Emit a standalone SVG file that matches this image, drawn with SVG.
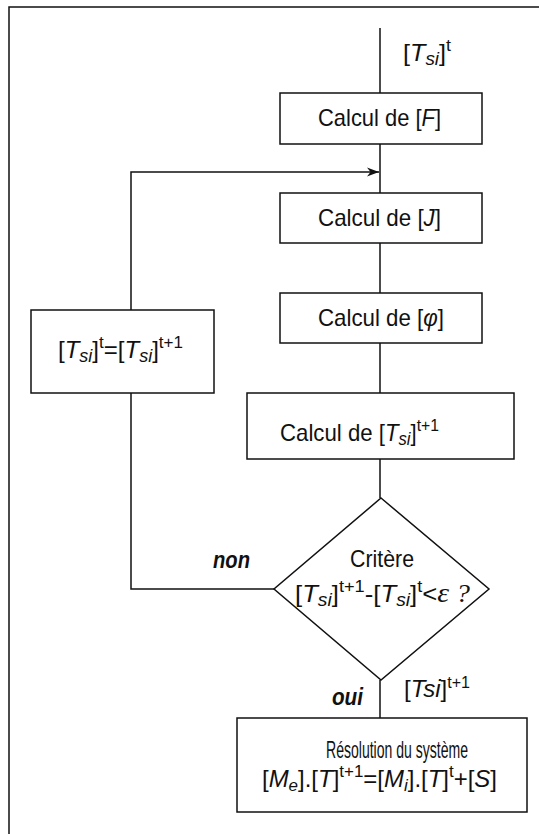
<svg xmlns="http://www.w3.org/2000/svg" width="539" height="834" viewBox="0 0 539 834">
<style>
.ln{stroke:#111;stroke-width:1.5;fill:none}
.bx{stroke:#111;stroke-width:1.5;fill:#fff}
text{font-family:"Liberation Sans",Arial,sans-serif;fill:#111;font-size:24px}
.i{font-style:italic}
.b{font-weight:bold;font-style:italic}
</style>
<defs>
<marker id="ah" viewBox="0 0 12 10" refX="12" refY="5" markerWidth="12" markerHeight="10" markerUnits="userSpaceOnUse" orient="auto">
<path d="M0,0.5 L12,5 L0,9.5 L3.5,5 z" fill="#111"/>
</marker>
</defs>
<rect width="539" height="834" fill="#fff"/>
<g id="frame"><path class="ln" d="M9,834 V7 H539"/></g>
<g id="connectors">
<path class="ln" d="M380,28 V93"/>
<path class="ln" d="M380,144 V193"/>
<path class="ln" d="M380,243 V293"/>
<path class="ln" d="M380,343 V393"/>
<path class="ln" d="M380,459 V498"/>
<path class="ln" d="M380,680 V718"/>
<path class="ln" d="M274,589 H131 V393"/>
<path class="ln" d="M131,310 V172 H379" marker-end="url(#ah)"/>
</g>
<g id="label-top">
<text x="403" y="61" textLength="48" lengthAdjust="spacingAndGlyphs">[<tspan class="i">T</tspan><tspan class="i" font-size="18" dy="4">si</tspan><tspan dy="-4">]</tspan><tspan font-size="17" dy="-10">t</tspan></text>
</g>
<g id="calcF">
<rect class="bx" x="280" y="93" width="202" height="51"/>
<text x="318" y="126" textLength="123" lengthAdjust="spacingAndGlyphs">Calcul de [<tspan class="i">F</tspan>]</text>
</g>
<g id="calcJ">
<rect class="bx" x="280" y="193" width="202" height="50"/>
<text x="318" y="226" textLength="123" lengthAdjust="spacingAndGlyphs">Calcul de [<tspan class="i">J</tspan>]</text>
</g>
<g id="calcPhi">
<rect class="bx" x="280" y="293" width="202" height="50"/>
<text x="318" y="326" textLength="126" lengthAdjust="spacingAndGlyphs">Calcul de [<tspan class="i">φ</tspan>]</text>
</g>
<g id="calcTsi">
<rect class="bx" x="247" y="393" width="267" height="66"/>
<text x="280" y="441" textLength="159" lengthAdjust="spacingAndGlyphs">Calcul de [<tspan class="i">T</tspan><tspan class="i" font-size="18" dy="4">si</tspan><tspan dy="-4">]</tspan><tspan font-size="17" dy="-10">t+1</tspan></text>
</g>
<g id="update">
<rect class="bx" x="31" y="310" width="183" height="83"/>
<text x="58" y="358" textLength="125" lengthAdjust="spacingAndGlyphs">[<tspan class="i">T</tspan><tspan class="i" font-size="18" dy="4">si</tspan><tspan dy="-4">]</tspan><tspan font-size="17" dy="-10">t</tspan><tspan dy="10">=[</tspan><tspan class="i">T</tspan><tspan class="i" font-size="18" dy="4">si</tspan><tspan dy="-4">]</tspan><tspan font-size="17" dy="-10">t+1</tspan></text>
</g>
<g id="critere">
<polygon class="bx" points="381,498 489,589 381,680 274,589"/>
<text x="350" y="567" textLength="64" lengthAdjust="spacingAndGlyphs">Critère</text>
<text x="295" y="602" textLength="175" lengthAdjust="spacingAndGlyphs">[<tspan class="i">T</tspan><tspan class="i" font-size="18" dy="4">si</tspan><tspan dy="-4">]</tspan><tspan font-size="17" dy="-10">t+1</tspan><tspan dy="10">-[</tspan><tspan class="i">T</tspan><tspan class="i" font-size="18" dy="4">si</tspan><tspan dy="-4">]</tspan><tspan font-size="17" dy="-10">t</tspan><tspan dy="10">&lt;</tspan><tspan class="i" font-family="Liberation Serif" font-size="28">ε</tspan><tspan class="i" font-family="Liberation Serif" font-size="26"> ?</tspan></text>
</g>
<g id="label-non"><text class="b" x="213" y="568" font-size="22" textLength="37" lengthAdjust="spacingAndGlyphs">non</text></g>
<g id="label-oui"><text class="b" x="332" y="705" font-size="22" textLength="31" lengthAdjust="spacingAndGlyphs">oui</text></g>
<g id="label-tsi"><text x="404" y="697" font-size="22" textLength="66" lengthAdjust="spacingAndGlyphs">[<tspan class="i">Tsi</tspan>]<tspan font-size="16" dy="-9">t+1</tspan></text></g>
<g id="resolution">
<rect class="bx" x="237" y="718" width="290" height="94"/>
<text x="326" y="758" font-size="21" textLength="142" lengthAdjust="spacingAndGlyphs">Résolution du système</text>
<text x="262" y="787" textLength="235" lengthAdjust="spacingAndGlyphs">[<tspan class="i">M</tspan><tspan class="i" font-size="17" dy="4">e</tspan><tspan dy="-4">].[</tspan><tspan class="i">T</tspan>]<tspan font-size="17" dy="-10">t+1</tspan><tspan dy="10">=[</tspan><tspan class="i">M</tspan><tspan class="i" font-size="17" dy="4">i</tspan><tspan dy="-4">].[</tspan><tspan class="i">T</tspan>]<tspan font-size="17" dy="-10">t</tspan><tspan dy="10">+[</tspan><tspan class="i">S</tspan>]</text>
</g>
</svg>
